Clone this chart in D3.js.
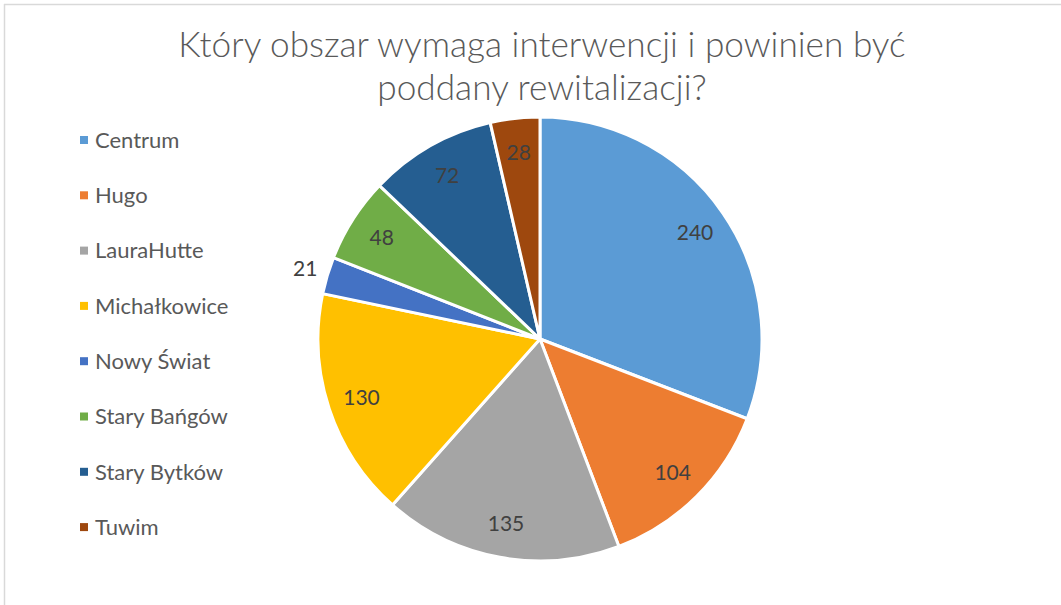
<!DOCTYPE html>
<html><head><meta charset="utf-8">
<script src="https://cdn.jsdelivr.net/npm/d3@7"></script>
<style>body{margin:0;background:#fff}svg{display:block}</style>
</head><body>
<svg id="c" width="1061" height="605"></svg>
<script>
const categories = ["Centrum","Hugo","LauraHutte","Michałkowice","Nowy Świat","Stary Bańgów","Stary Bytków","Tuwim"];
const values = [240,104,135,130,21,48,72,28];
const colors = ["#5B9BD5","#ED7D31","#A5A5A5","#FFC000","#4472C4","#70AD47","#255E91","#9E480E"];
const titleLines = ["Który obszar wymaga interwencji i powinien być","poddany rewitalizacji?"];
const outsideLabels = ["Nowy Świat"];

const svg = d3.select("#c");
const font = "Lato, 'Open Sans', sans-serif";
// border
svg.append("line").attr("x1",4).attr("x2",1061).attr("y1",4.5).attr("y2",4.5).attr("stroke","#d9d9d9").attr("stroke-width",1.5);
svg.append("line").attr("x1",4.5).attr("x2",4.5).attr("y1",4).attr("y2",605).attr("stroke","#d9d9d9").attr("stroke-width",1.5);

svg.selectAll("text.title").data(titleLines).join("text")
  .attr("class","title").attr("x",542).attr("y",(d,i)=>57+i*43)
  .attr("text-anchor","middle").attr("font-family",font).attr("font-weight",300)
  .attr("font-size",35.2).attr("fill","#595959").text(d=>d);

const cx=540, cy=339, R=222;
const pie = d3.pie().sort(null).value(d=>d.v);
const data = pie(categories.map((c,i)=>({c,v:values[i],col:colors[i]})));
const arc = d3.arc().innerRadius(0).outerRadius(R);
const g = svg.append("g").attr("transform",`translate(${cx},${cy})`);
g.selectAll("path").data(data).join("path").attr("d",arc)
  .attr("fill",d=>d.data.col).attr("stroke","#fff").attr("stroke-width",3).attr("stroke-linejoin","round");
const inArc = d3.arc().innerRadius(188).outerRadius(188);
const outArc = d3.arc().innerRadius(245).outerRadius(245);
g.selectAll("text").data(data).join("text")
  .attr("transform",d=>`translate(${(outsideLabels.includes(d.data.c)?outArc:inArc).centroid(d)})`)
  .attr("text-anchor","middle").attr("dy","0.35em")
  .attr("font-family",font).attr("font-size",21).attr("fill","#404040")
  .text(d=>d.data.v);

const leg = svg.append("g");
const rows = leg.selectAll("g").data(categories).join("g")
  .attr("transform",(d,i)=>`translate(80,${140+i*55.3})`);
rows.append("rect").attr("x",0).attr("y",-4).attr("width",8).attr("height",8).attr("fill",(d,i)=>colors[i]);
rows.append("text").attr("x",15).attr("dy","0.35em").attr("font-family",font).attr("font-size",22)
  .attr("fill","#595959").text(d=>d);
</script>
</body></html>
